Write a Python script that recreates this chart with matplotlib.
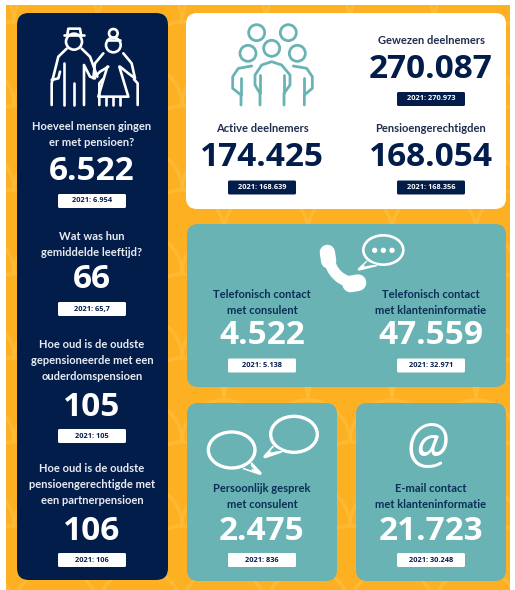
import numpy as np
import matplotlib
matplotlib.use("Agg")
import matplotlib.pyplot as plt
from matplotlib.patches import FancyBboxPatch, Rectangle, Circle, Ellipse, Arc, Polygon, PathPatch
from matplotlib.path import Path

# ---- data ----
left_labels = ["Hoeveel mensen gingen\ner met pensioen?", "Wat was hun\ngemiddelde leeftijd?",
               "Hoe oud is de oudste\ngepensioneerde met een\nouderdomspensioen",
               "Hoe oud is de oudste\npensioengerechtigde met\neen partnerpensioen"]
left_values = ["6.522", "66", "105", "106"]
left_prev = ["2021: 6.954", "2021: 65,7", "2021: 105", "2021: 106"]

white_labels = ["Gewezen deelnemers", "Active deelnemers", "Pensioengerechtigden"]
white_values = ["270.087", "174.425", "168.054"]
white_prev = ["2021: 270.973", "2021: 168.639", "2021: 168.356"]

teal_labels = ["Telefonisch contact\nmet consulent", "Telefonisch contact\nmet klanteninformatie",
               "Persoonlijk gesprek\nmet consulent", "E-mail contact\nmet klanteninformatie"]
teal_values = ["4.522", "47.559", "2.475", "21.723"]
teal_prev = ["2021: 5.138", "2021: 32.971", "2021: 836", "2021: 30.248"]

NAVY = "#031D4A"; ORANGE = "#FDB022"; TEAL = "#69B3B4"; LIGHT = "#FEB935"; WHITE = "#FFFFFF"
FONT = ["Lato", "DejaVu Sans"]
NUMFONT = ["Open Sans", "DejaVu Sans"]

fig = plt.figure(figsize=(5.15, 5.90), dpi=100)
ax = fig.add_axes([0, 0, 1, 1])
ax.set_xlim(0, 515); ax.set_ylim(590, 0); ax.axis("off")

ax.add_patch(Rectangle((6, 5), 504, 585, fc=ORANGE, ec="none", zorder=0))
clip = Rectangle((6, 5), 504, 585, transform=ax.transData)
for row, yy in enumerate(np.arange(-20, 640, 42)):
    for xx in np.arange(-70 + (row % 2) * 42, 580, 84):
        a = Arc((xx, yy), 84, 84, theta1=180, theta2=360, ec=LIGHT, lw=2.5, zorder=1)
        ax.add_patch(a); a.set_clip_path(clip)

def panel(x0, y0, x1, y1, color, r=11):
    ax.add_patch(FancyBboxPatch((x0 + r, y0 + r), x1 - x0 - 2 * r, y1 - y0 - 2 * r,
                                boxstyle=f"round,pad={r},rounding_size={r}", fc=color, ec="none", zorder=2))

def stat(cx, label, label_ys, value, vy, prev, by, label_c, val_c, badge_c, badge_t, vsize=24):
    for line, ly in zip(label.split("\n"), label_ys):
        ax.text(cx, ly, line, ha="center", va="center", fontsize=8.0, fontweight="bold", color=label_c,
                family=FONT, zorder=5)
    ax.text(cx, vy, value, ha="center", va="center", fontsize=vsize, fontweight="bold", color=val_c,
            family=NUMFONT, zorder=5)
    ax.add_patch(FancyBboxPatch((cx - 33, by + 1), 66, 12, boxstyle="round,pad=1,rounding_size=1.5",
                                fc=badge_c, ec="none", zorder=4))
    ax.text(cx, by + 7, prev, ha="center", va="center", fontsize=5.3, fontweight="bold", color=badge_t,
            family=NUMFONT, zorder=5)

panel(17, 13, 168, 580, NAVY, 12)
panel(186, 13, 506, 209, WHITE)
panel(187, 224, 506, 387, TEAL)
panel(187, 403, 337, 581, TEAL)
panel(356, 403, 506, 581, TEAL)

left_ly = [[127, 143], [236, 252], [344, 360, 376], [469, 485, 500]]
left_vy = [172, 280, 407, 531]
left_by = [194, 302, 429, 553]
for i in range(4):
    stat(92, left_labels[i], left_ly[i], left_values[i], left_vy[i], left_prev[i], left_by[i],
         "#E8ECF2", WHITE, WHITE, NAVY)

white_cx = [431, 262, 431]
white_ly = [[40], [129], [129]]
white_vy = [69, 158, 158]
white_by = [92, 180.5, 180.5]
for i in range(3):
    stat(white_cx[i], white_labels[i], white_ly[i], white_values[i], white_vy[i], white_prev[i], white_by[i],
         "#1F2D4D", NAVY, NAVY, WHITE)

teal_cx = [262, 431, 262, 431]
teal_ly = [[294, 310], [294, 310], [489, 505], [489, 505]]
teal_vy = [336, 336, 532, 532]
teal_by = [358.5, 358.5, 553, 553]
for i in range(4):
    stat(teal_cx[i], teal_labels[i], teal_ly[i], teal_values[i], teal_vy[i], teal_prev[i], teal_by[i],
         "#0B2F57", WHITE, WHITE, NAVY)

def line(pts, color, lw, ox=0, oy=0, s=1/3):
    pts = np.asarray(pts, float)
    ax.plot(ox + pts[:, 0] * s, oy + pts[:, 1] * s, color=color, lw=lw, solid_capstyle="round",
            solid_joinstyle="round", zorder=6)

def circle(cx, cy, r, color, lw, ox=0, oy=0, s=1/3, fill="none"):
    ax.add_patch(Circle((ox + cx * s, oy + cy * s), r * s, fc=fill, ec=color, lw=lw, zorder=6))

# elderly couple icon
w = 1.9
circle(222, 125, 24, WHITE, w)
line([[192, 104], [252, 104]], WHITE, w)
line([[202, 104], [205, 86], [240, 86], [243, 104]], WHITE, w)
line([[155, 315], [155, 250], [175, 170], [200, 146]], WHITE, w)
line([[245, 146], [270, 170], [292, 230]], WHITE, w)
line([[192, 315], [192, 190]], WHITE, w)
line([[222, 315], [222, 250]], WHITE, w)
line([[252, 315], [252, 195], [270, 230], [285, 235]], WHITE, w)
line([[155, 240], [175, 235], [180, 215]], WHITE, w)
circle(340, 135, 22, WHITE, w)
circle(340, 100, 13, WHITE, w)
line([[320, 120], [360, 120]], WHITE, w)
line([[310, 160], [285, 190], [280, 235], [300, 215], [325, 200]], WHITE, w)
line([[370, 160], [395, 190], [405, 235], [385, 220], [360, 200]], WHITE, w)
line([[322, 200], [295, 290], [385, 290], [358, 200]], WHITE, w)
line([[318, 290], [318, 315]], WHITE, w); line([[338, 290], [338, 315]], WHITE, w); line([[360, 290], [360, 315]], WHITE, w)
line([[298, 315], [298, 250], [308, 238]], WHITE, w)
line([[413, 315], [413, 250], [402, 238]], WHITE, w)

# group icon
g = 2.0; ox = 180
for c in [(230, 98), (325, 98), (204, 160), (275, 145), (352, 160)]:
    circle(c[0], c[1], 24, TEAL, g, ox=ox)
line([[240, 315], [240, 280], [225, 255], [225, 225], [245, 195], [275, 185], [305, 195], [330, 225], [330, 255], [312, 280], [312, 315]], TEAL, g, ox=ox)
line([[240, 225], [240, 280]], TEAL, g, ox=ox)
line([[312, 225], [312, 280]], TEAL, g, ox=ox)
line([[183, 315], [183, 285], [158, 265], [158, 230], [175, 205], [215, 198]], TEAL, g, ox=ox)
line([[183, 235], [183, 285]], TEAL, g, ox=ox)
line([[373, 315], [373, 285], [397, 265], [397, 230], [380, 205], [340, 198]], TEAL, g, ox=ox)
line([[373, 235], [373, 285]], TEAL, g, ox=ox)

# phone icon
oy = 215
curve = Path([(ox + 445 / 3, oy + 125 / 3), (ox + 458 / 3, oy + 198 / 3), (ox + 530 / 3, oy + 205 / 3)],
             [Path.MOVETO, Path.CURVE3, Path.CURVE3])
ax.add_patch(PathPatch(curve, fc="none", ec=WHITE, lw=8, capstyle="round", zorder=6))
line([[442, 112], [446, 138]], WHITE, 11, ox=ox, oy=oy)
line([[512, 207], [534, 203]], WHITE, 12, ox=ox, oy=oy)

def bubble(cx, cy, rx, ry, tip, b0, b1, lw, oy):
    ax.add_patch(Polygon([(ox + b0[0] / 3, oy + b0[1] / 3), (ox + tip[0] / 3, oy + tip[1] / 3), (ox + b1[0] / 3, oy + b1[1] / 3)],
                         closed=False, fc=TEAL, ec=WHITE, lw=lw, zorder=6, joinstyle="round"))
    ax.add_patch(Ellipse((ox + cx / 3, oy + cy / 3), 2 * rx / 3, 2 * ry / 3, fc=TEAL, ec=WHITE, lw=lw, zorder=6))
    ax.add_patch(Polygon([(ox + b0[0] / 3, oy + b0[1] / 3), (ox + (b0[0] + tip[0]) / 6, oy + (b0[1] + tip[1]) / 6), (ox + b1[0] / 3, oy + b1[1] / 3)],
                         fc=TEAL, ec="none", zorder=7))

bubble(610, 105, 60, 44, (537, 163), (562, 140), (590, 150), 1.9, 215)
for dx in (-26, 0, 26):
    circle(610 + dx, 106, 8, WHITE, 0, ox=ox, oy=215, fill=WHITE)

bubble(155, 165, 70, 54, (240, 235), (190, 218), (212, 205), 2.4, 395)
bubble(342, 118, 70, 54, (255, 185), (282, 155), (305, 168), 2.4, 395)

ax.text(ox + 745 / 3, 395 + 150 / 3, "@", ha="center", va="center", fontsize=40, color=WHITE,
        family=FONT, style="italic", zorder=6)

fig.savefig("out.png", dpi=100, facecolor="white")
